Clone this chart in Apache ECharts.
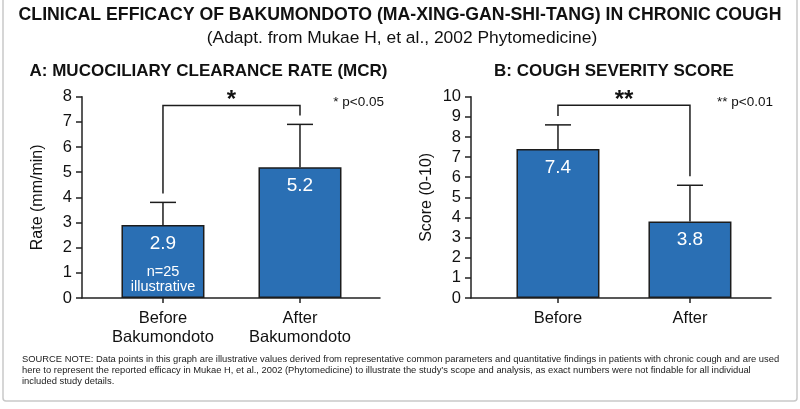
<!DOCTYPE html>
<html><head><meta charset="utf-8">
<script src="https://cdn.jsdelivr.net/npm/echarts@6/dist/echarts.min.js"></script>
<style>html,body{margin:0;padding:0;background:#fff}#c{width:800px;height:409px}</style>
</head><body><div id="c"></div>
<script>
// ---------- data ----------
const mcrCategories = ['Before\nBakumondoto', 'After\nBakumondoto'];
const mcrMeans = [2.9, 5.2];
const mcrErrors = [0.9, 1.7];
const mcrBracketTop = 7.65;
const mcrYMax = 8;

const scoreCategories = ['Before', 'After'];
const scoreMeans = [7.4, 3.8];
const scoreErrors = [1.2, 1.8];
const scoreBracketTop = 9.57;
const scoreYMax = 10;

const mainTitle = 'CLINICAL EFFICACY OF BAKUMONDOTO (MA-XING-GAN-SHI-TANG) IN CHRONIC COUGH';
const subTitle = '(Adapt. from Mukae H, et al., 2002 Phytomedicine)';
const panelTitles = ['A: MUCOCILIARY CLEARANCE RATE (MCR)', 'B: COUGH SEVERITY SCORE'];
const sigMarks = ['*', '**'];
const sigNotes = ['* p<0.05', '** p<0.01'];
const yNames = ['Rate (mm/min)', 'Score (0-10)'];
const barNote = 'n=25\nillustrative';
const sourceNote = [
  'SOURCE NOTE: Data points in this graph are illustrative values derived from representative common parameters and quantitative findings in patients with chronic cough and are used',
  'here to represent the reported efficacy in Mukae H, et al., 2002 (Phytomedicine) to illustrate the study\u2019s scope and analysis, as exact numbers were not findable for all individual',
  'included study details.'
];

// ---------- helpers ----------
function hasFont(name){
  const c=document.createElement('canvas').getContext('2d');
  const s='SOURCE NOTE: Data points in this graph';
  c.font='40px monospace'; const w0=c.measureText(s).width;
  c.font='40px "'+name+'", monospace'; return Math.abs(c.measureText(s).width-w0)>0.5;
}
const narrowOK = hasFont('Liberation Sans Narrow');
const noteFont = narrowOK ? {fontFamily:'"Liberation Sans Narrow"', fontSize:11.4} : {fontFamily:'"Liberation Sans"', fontSize:9.4};
const FF = '"Liberation Sans", Arial, sans-serif';
const AX = '#222';
const BAR = '#2a6fb4';

function pts(means, errors){ return means.map((m,i)=>[i, m, errors[i]]); }

function makeX(gridIndex, cats, min, max){
  return {
    type:'value', gridIndex, min, max,
    splitLine:{show:false},
    axisLine:{show:true, onZero:false, lineStyle:{color:AX, width:1.5}},
    axisTick:{show:true, customValues:[0,1], length:5, lineStyle:{color:AX, width:1.5}},
    axisLabel:{customValues:[0,1], formatter:v=>cats[Math.round(v)], color:'#111',
      fontFamily:FF, fontSize:16.5, lineHeight:19, margin:11}
  };
}
function makeY(gridIndex, max, name){
  return {
    type:'value', gridIndex, min:0, max, interval:1,
    name, nameLocation:'middle', nameGap:36,
    nameTextStyle:{fontFamily:FF, fontSize:16, color:'#111'},
    splitLine:{show:false},
    axisLine:{show:true, onZero:false, lineStyle:{color:AX, width:1.5}},
    axisTick:{show:true, length:6, lineStyle:{color:AX, width:1.5}},
    axisLabel:{fontFamily:FF, fontSize:16.5, color:'#111', margin:10}
  };
}
function barSeries(idx, means){
  return {
    type:'bar', xAxisIndex:idx, yAxisIndex:idx, barWidth:83,
    data: means.map((m,i)=>[i,m]),
    itemStyle:{color:BAR, borderColor:'#1c1c1c', borderWidth:1.5},
    label:{show:true, position:'insideTop', distance:9, color:'#fff',
      fontFamily:FF, fontSize:19, formatter:p=>p.value[1].toFixed(1)},
    z:2
  };
}
function errSeries(idx, means, errors){
  return {
    type:'custom', xAxisIndex:idx, yAxisIndex:idx, z:5,
    data: pts(means, errors),
    renderItem(params, api){
      const x=api.value(0), m=api.value(1), e=api.value(2);
      const p0=api.coord([x,m]), p1=api.coord([x,m+e]);
      const st={stroke:'#1c1c1c', lineWidth:1.5};
      return {type:'group', children:[
        {type:'line', shape:{x1:p0[0],y1:p0[1],x2:p1[0],y2:p1[1]}, style:st},
        {type:'line', shape:{x1:p1[0]-13,y1:p1[1],x2:p1[0]+13,y2:p1[1]}, style:st}
      ]};
    }
  };
}
function bracketSeries(idx, means, errors, top, mark){
  return {
    type:'custom', xAxisIndex:idx, yAxisIndex:idx, z:5,
    data:[[0, 1, top, means[0]+errors[0], means[1]+errors[1]]],
    renderItem(params, api){
      const t0=api.coord([api.value(0), api.value(2)]);
      const t1=api.coord([api.value(1), api.value(2)]);
      const b0=api.coord([api.value(0), api.value(3)]);
      const b1=api.coord([api.value(1), api.value(4)]);
      const st={stroke:'#1c1c1c', lineWidth:1.5, fill:null};
      return {type:'group', children:[
        {type:'polyline', shape:{points:[[b0[0],b0[1]-9],[t0[0],t0[1]],[t1[0],t1[1]],[b1[0],b1[1]-9]]}, style:st},
        {type:'text', x:(t0[0]+t1[0])/2, y:t0[1]-5, style:{text:mark, fontFamily:FF, fontWeight:'bold',
          fontSize:24, fill:'#111', align:'center', verticalAlign:'middle'}}
      ]};
    }
  };
}
function noteSeries(idx){
  return {
    type:'custom', xAxisIndex:idx, yAxisIndex:idx, z:6,
    data:[[0,0]],
    renderItem(params, api){
      const p=api.coord([api.value(0), api.value(1)]);
      return {type:'text', x:p[0], y:p[1]-19, style:{text:barNote, fontFamily:FF, fontSize:14.5,
        lineHeight:15, fill:'#fff', align:'center', verticalAlign:'middle'}};
    }
  };
}

const txt = (text, x, y, o) => ({type:'text', x, y, silent:true,
  style:Object.assign({text, fontFamily:FF, fill:'#111', align:'center', verticalAlign:'middle'}, o||{})});

const option = {
  backgroundColor:'#fff',
  animation:false,
  grid:[
    {left:82, right:420, top:96.7, bottom:111},
    {left:471, right:29, top:96.7, bottom:111}
  ],
  xAxis:[ makeX(0, mcrCategories, -0.591, 1.584), makeX(1, scoreCategories, -0.659, 1.614) ],
  yAxis:[ makeY(0, mcrYMax, yNames[0]), makeY(1, scoreYMax, yNames[1]) ],
  series:[
    barSeries(0, mcrMeans), barSeries(1, scoreMeans),
    errSeries(0, mcrMeans, mcrErrors), errSeries(1, scoreMeans, scoreErrors),
    bracketSeries(0, mcrMeans, mcrErrors, mcrBracketTop, sigMarks[0]),
    bracketSeries(1, scoreMeans, scoreErrors, scoreBracketTop, sigMarks[1]),
    noteSeries(0)
  ],
  graphic:[
    {type:'rect', silent:true, shape:{x:3, y:-6, width:794, height:407, r:3},
      style:{fill:null, stroke:'#c9c9c9', lineWidth:1.5}},
    txt(mainTitle, 400, 15.5, {fontWeight:'bold', fontSize:17.7}),
    txt(subTitle, 402, 38, {fontSize:17.4}),
    txt(panelTitles[0], 208.5, 71, {fontWeight:'bold', fontSize:17}),
    txt(panelTitles[1], 614, 71, {fontWeight:'bold', fontSize:17}),
    txt(sigNotes[0], 384, 102, {fontSize:13.5, align:'right'}),
    txt(sigNotes[1], 773, 102, {fontSize:13.5, align:'right'}),
    txt(sourceNote.join('\n'), 22, 354, Object.assign({align:'left', verticalAlign:'top', lineHeight:11, fill:'#222'}, noteFont))
  ]
};

const chart = echarts.init(document.getElementById('c'), null, {renderer:'canvas'});
chart.setOption(option);
</script>
</body></html>
